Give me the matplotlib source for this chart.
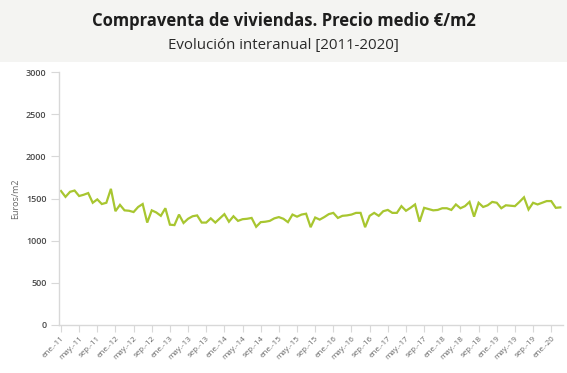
import matplotlib.pyplot as plt
from matplotlib.patches import Rectangle

# precio medio mensual (euros/m2), ene-2011 .. mar-2020
precio = [
    1590, 1520, 1580, 1595, 1530, 1545, 1565, 1450, 1490, 1435, 1450, 1615,
    1350, 1425, 1360, 1355, 1340, 1400, 1435, 1215, 1360, 1335, 1295, 1385,
    1190, 1185, 1310, 1210, 1260, 1290, 1300, 1215, 1215, 1265, 1215, 1265,
    1315, 1225, 1290, 1235, 1255, 1260, 1270, 1165, 1220, 1225, 1235, 1265,
    1280, 1260, 1220, 1310, 1285, 1310, 1320, 1160, 1275, 1250, 1280, 1315,
    1330, 1270, 1295, 1300, 1310, 1330, 1330, 1160, 1295, 1330, 1295, 1350,
    1365, 1330, 1330, 1410, 1355, 1390, 1430, 1225, 1390, 1375, 1360, 1365,
    1385, 1385, 1365, 1430, 1385, 1410, 1460, 1285, 1450, 1400, 1420, 1460,
    1450, 1385, 1420, 1415, 1410, 1460, 1515, 1370, 1450, 1430, 1450, 1470,
    1470, 1390, 1395,
]
meses = ["ene.", "may.", "sep."]
anios = list(range(11, 21))
etiquetas = [f"{m}-{a}" for a in anios for m in meses][:28]
y_ticks = [0, 500, 1000, 1500, 2000, 2500, 3000]

fig = plt.figure(figsize=(5.67, 3.73), dpi=100)
fig.patch.set_facecolor("white")

# header band
fig.patches.append(Rectangle((0, 0.834), 1, 0.166, transform=fig.transFigure,
                             facecolor="#f4f4f2", edgecolor="none", zorder=0))
fig.text(0.5, 0.945, "Compraventa de viviendas. Precio medio €/m2",
         ha="center", va="center", fontsize=12, fontweight="bold",
         color="#1e1e1e", family="Open Sans")
fig.text(0.5, 0.878, "Evolución interanual [2011-2020]",
         ha="center", va="center", fontsize=10.8, color="#2a2a2a",
         family="Open Sans")

ax = fig.add_axes([0.104, 0.1287, 0.889, 0.678])
x = list(range(len(precio)))
ax.plot(x, precio, color="#a8c630", lw=1.6, solid_joinstyle="miter")

ax.set_ylim(0, 3000)
ax.set_xlim(-0.44, 110.6)
ax.set_yticks(y_ticks)
ax.set_yticklabels([str(v) for v in y_ticks], fontsize=6.5, color="#4a4a4a",
                   family="Open Sans", fontweight="semibold")
ax.set_xticks(range(0, 109, 4))
ax.set_xticklabels(etiquetas, rotation=45, ha="right", rotation_mode="anchor",
                   fontsize=5.8, color="#666666", family="Open Sans")
ax.tick_params(axis="y", length=6, width=0.8, color="#d8d8d8", pad=3)
ax.tick_params(axis="x", length=5, width=0.8, color="#d8d8d8", pad=2)
ax.set_ylabel("Euros/m2", fontsize=6.5, color="#666666", family="Open Sans",
              labelpad=4)

for s in ["top", "right"]:
    ax.spines[s].set_visible(False)
for s in ["left", "bottom"]:
    ax.spines[s].set_color("#d8d8d8")
    ax.spines[s].set_linewidth(1)

fig.savefig("out.png", dpi=100)
